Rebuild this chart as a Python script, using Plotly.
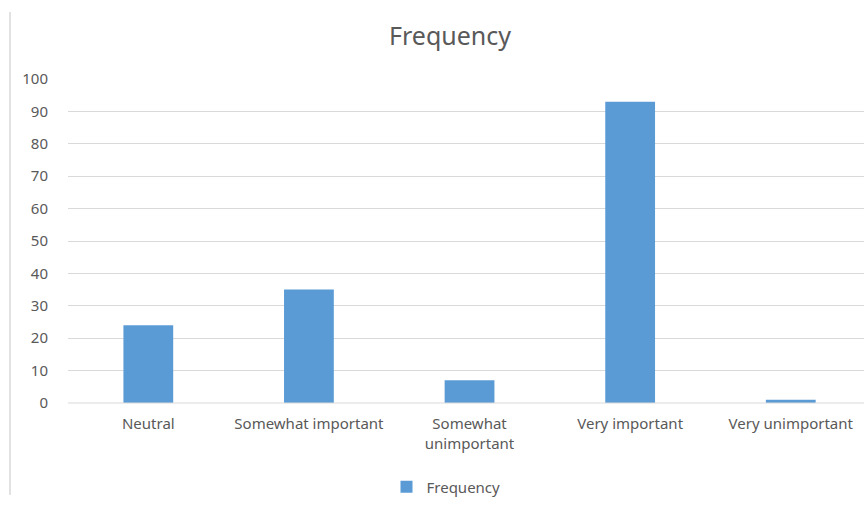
import plotly.graph_objects as go

categories = ["Neutral", "Somewhat important", "Somewhat unimportant", "Very important", "Very unimportant"]
tick_labels = ["Neutral", "Somewhat important", "Somewhat<br>unimportant", "Very important", "Very unimportant"]
frequency = [24, 35, 7, 93, 1]
y_ticks = [0, 10, 20, 30, 40, 50, 60, 70, 80, 90, 100]

text_color = "#595959"
font_family = "Noto Sans"

fig = go.Figure()
fig.add_trace(go.Bar(
    x=categories,
    y=frequency,
    name="Frequency",
    width=0.31,
    marker=dict(color="#5b9bd5", line=dict(width=0)),
))

fig.update_layout(
    width=864,
    height=505,
    paper_bgcolor="white",
    plot_bgcolor="white",
    margin=dict(l=68, r=0, t=79, b=102),
    font=dict(family=font_family, size=15, color=text_color),
    title=dict(
        text="Frequency",
        font=dict(family=font_family, size=25, color=text_color),
        x=450 / 864, xanchor="center", xref="container",
        y=1 - 36 / 505, yanchor="middle", yref="container",
    ),
    showlegend=True,
    legend=dict(
        orientation="h",
        x=446 / 864, xanchor="center", xref="container",
        y=1 - 487 / 505, yanchor="middle", yref="container",
        font=dict(family=font_family, size=15, color=text_color),
        itemwidth=30,
    ),
    xaxis=dict(
        tickmode="array",
        tickvals=categories,
        ticktext=tick_labels,
        range=[-0.5, 4.456],
        showgrid=False,
        showline=False,
        zeroline=False,
        ticks="",
        ticklabelstandoff=10,
    ),
    yaxis=dict(
        range=[0, 100],
        tickmode="array",
        tickvals=y_ticks,
        showgrid=True,
        gridcolor="#d9d9d9",
        gridwidth=1,
        zeroline=False,
        showline=False,
        ticks="",
        ticklabelstandoff=19,
    ),
    shapes=[
        dict(type="line", xref="paper", yref="paper",
             x0=0, x1=1, y0=0, y1=0,
             line=dict(color="#d9d9d9", width=1)),
        dict(type="line", xref="x domain", yref="y domain",
             x0=-58 / 796, x1=-58 / 796, y0=-92 / 324, y1=(403 - 12) / 324,
             line=dict(color="#d9d9d9", width=1.5)),
    ],
)

fig.write_html("out.html")
